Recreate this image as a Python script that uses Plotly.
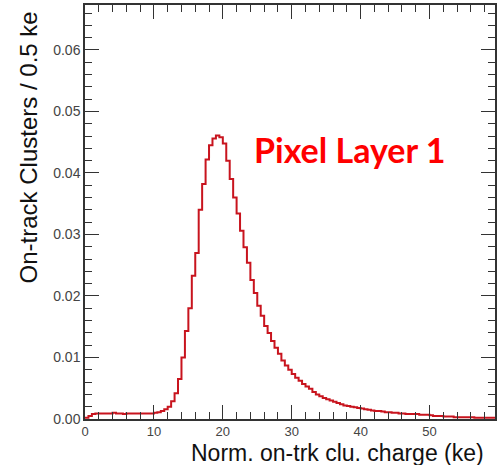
import numpy as np
import plotly.graph_objects as go

bin_width = 0.5
counts = [
    0.0002, 0.0005, 0.0008, 0.0009, 0.0009, 0.0009, 0.0009, 0.0009, 0.0010, 0.0009,  # 0-5
    0.0009, 0.0008, 0.0009, 0.0009, 0.0009, 0.0009, 0.0009, 0.0009, 0.0009, 0.0009,  # 5-10
    0.0010, 0.0011, 0.0013, 0.0016, 0.0020, 0.0029, 0.0042, 0.0065, 0.0100, 0.0143,  # 10-15
    0.0180, 0.0233, 0.0270, 0.0340, 0.0382, 0.0422, 0.0445, 0.0456, 0.0461, 0.0458,  # 15-20
    0.0448, 0.0420, 0.0390, 0.0360, 0.0334, 0.0306, 0.0279, 0.0254, 0.0226, 0.0205,  # 20-25
    0.0184, 0.0168, 0.0151, 0.0140, 0.0127, 0.0116, 0.0106, 0.0095, 0.0087, 0.0080,  # 25-30
    0.0073, 0.0067, 0.0062, 0.0057, 0.0053, 0.0049, 0.0044, 0.0040, 0.0037, 0.0034,  # 30-35
    0.0032, 0.0030, 0.0028, 0.0026, 0.0024, 0.0022, 0.0021, 0.0020, 0.0019, 0.0018,  # 35-40
    0.0017, 0.0016, 0.0015, 0.0014, 0.0013, 0.0013, 0.0012, 0.0011, 0.0011, 0.0010,  # 40-45
    0.0010, 0.0009, 0.0009, 0.0008, 0.0008, 0.0008, 0.0008, 0.0007, 0.0007, 0.0007,  # 45-50
    0.0006, 0.0005, 0.0005, 0.0005, 0.0004, 0.0004, 0.0004, 0.0003, 0.0003, 0.0003,  # 50-55
    0.0003, 0.0003, 0.0003, 0.0002, 0.0002, 0.0002, 0.0002, 0.0002, 0.0002, 0.0002,  # 55-60
]
bin_lows = [i * bin_width for i in range(len(counts))]

x_ticks = [0, 10, 20, 30, 40, 50, 60]
y_ticks = [0.00, 0.01, 0.02, 0.03, 0.04, 0.05, 0.06]
y_tick_labels = ["0.00", "0.01", "0.02", "0.03", "0.04", "0.05", "0.06"]

xs = bin_lows + [bin_lows[-1] + bin_width]
ys = counts + [counts[-1]]

fig = go.Figure()
fig.add_trace(go.Scatter(
    x=xs, y=ys, mode="lines", line=dict(shape="hv", color="#c8141e", width=2),
    showlegend=False, hoverinfo="skip",
))

fig.add_annotation(
    text="<b>Pixel Layer 1</b>", x=0.646, y=0.65, xref="paper", yref="paper",
    showarrow=False, font=dict(family="Lato", size=34, color="#ff0000"),
    xanchor="center", yanchor="middle",
)
fig.add_annotation(
    text="Norm. on-trk clu. charge (ke)", x=0.617, y=-0.081, xref="paper", yref="paper",
    showarrow=False, font=dict(family="Liberation Sans", size=23, color="#111"),
    xanchor="center", yanchor="middle", borderpad=0,
)
fig.add_annotation(
    text="On-track Clusters / 0.5 ke", x=-0.138, y=0.657, xref="paper", yref="paper",
    showarrow=False, textangle=-90, font=dict(family="Liberation Sans", size=24, color="#111"),
    xanchor="center", yanchor="middle",
)

axis_common = dict(
    showgrid=False, zeroline=False, showline=True, linecolor="#333", linewidth=1.5,
    mirror="ticks", ticks="inside", tickcolor="#333", tickwidth=1.2,
)

fig.update_xaxes(
    range=[0, 59.5], tickvals=x_ticks, ticklen=14,
    tickfont=dict(family="Liberation Sans", size=13, color="#444"),
    minor=dict(dtick=2, ticklen=7, ticks="inside", tickcolor="#333", tickwidth=1.2),
    **axis_common,
)
fig.update_yaxes(
    range=[0, 0.0673], tickvals=y_ticks, ticktext=y_tick_labels, ticklen=14,
    tickfont=dict(family="Liberation Sans", size=14, color="#444"),
    minor=dict(dtick=0.002, ticklen=7, ticks="inside", tickcolor="#333", tickwidth=1.2),
    **axis_common,
)

fig.update_layout(
    width=497, height=465,
    margin=dict(l=85, r=0, t=5, b=46),
    plot_bgcolor="white", paper_bgcolor="white",
)

fig.write_html(
    "out.html",
    config={"displayModeBar": False},
    post_script="document.body.style.margin='0px';document.body.style.overflow='hidden';",
)
